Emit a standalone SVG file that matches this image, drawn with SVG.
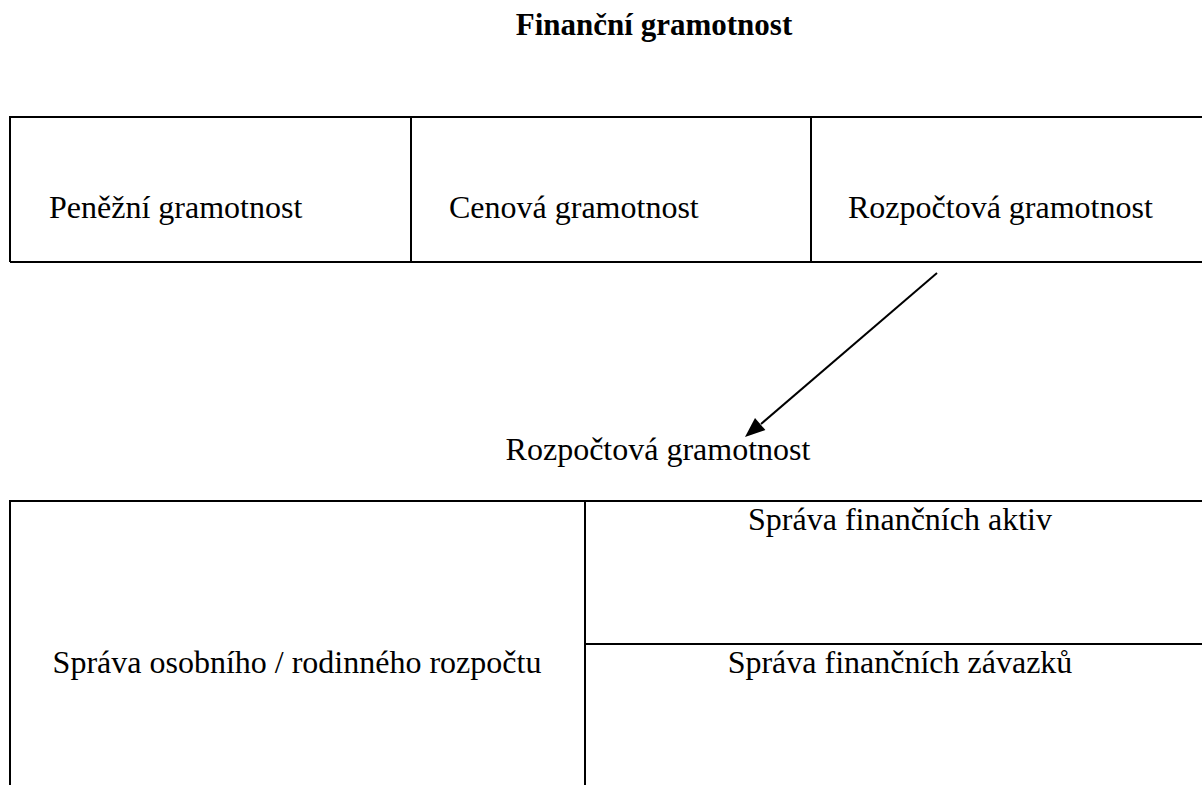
<svg xmlns="http://www.w3.org/2000/svg" width="1202" height="785" viewBox="0 0 1202 785">
<style>
  .t { font-family: "Liberation Serif", "Times New Roman", serif; font-size: 32px; fill: #000; }
  .b { font-weight: bold; font-size: 31px; }
  .ln { stroke: #000; stroke-width: 2; fill: none; }
</style>
<rect width="1202" height="785" fill="#fff"/>
<text id="title" class="t b" x="654" y="35" text-anchor="middle">Finanční gramotnost</text>

<g id="top-table">
  <path class="ln" d="M10,262 V117 H1202 M10,262 H1202 M411,117 V262 M811,117 V262"/>
</g>
<g id="penezni"><text class="t" x="49" y="218">Peněžní gramotnost</text></g>
<g id="cenova"><text class="t" x="449" y="218">Cenová gramotnost</text></g>
<g id="rozpoctova"><text class="t" x="848" y="218">Rozpočtová gramotnost</text></g>

<g id="connectors">
  <line class="ln" x1="937" y1="273" x2="761" y2="424"/>
  <polygon points="745,437 755,417.9 765.4,430.1" fill="#000"/>
</g>

<g id="rozpoctova-label"><text class="t" x="658" y="460" text-anchor="middle">Rozpočtová gramotnost</text></g>

<g id="bottom-table">
  <path class="ln" d="M10,785 V501 H1202 M585,501 V785 M585,644 H1202"/>
</g>
<g id="sprava-rozpoctu"><text class="t" x="297" y="673" text-anchor="middle">Správa osobního / rodinného rozpočtu</text></g>
<g id="sprava-aktiv"><text class="t" x="900" y="530" text-anchor="middle">Správa finančních aktiv</text></g>
<g id="sprava-zavazku"><text class="t" x="900" y="673" text-anchor="middle">Správa finančních závazků</text></g>
</svg>
